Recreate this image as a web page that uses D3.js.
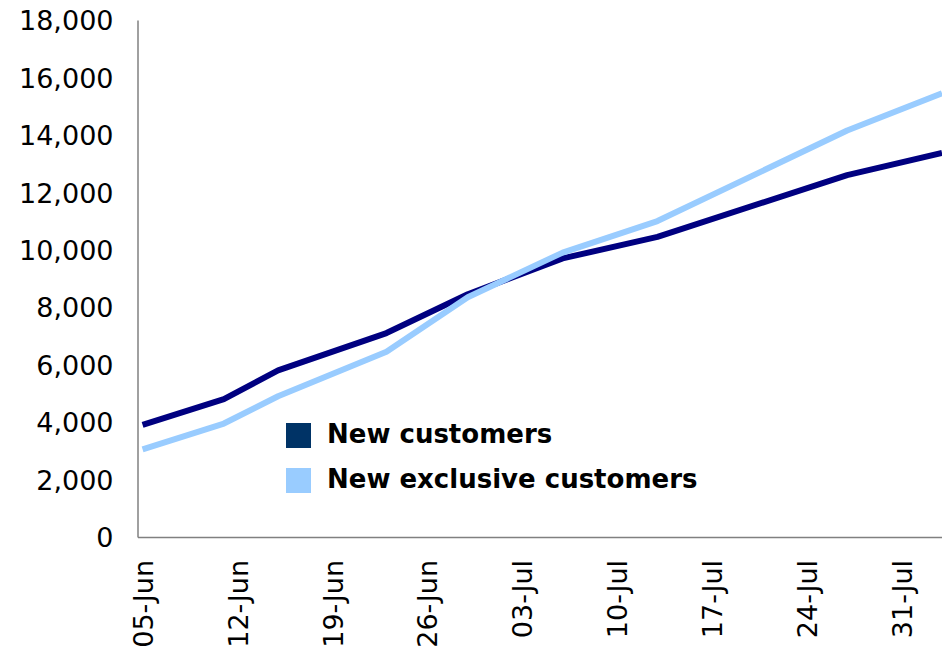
<!DOCTYPE html>
<html>
<head>
<meta charset="utf-8">
<script src="https://cdn.jsdelivr.net/npm/d3@7"></script>
<style>
  html, body { margin: 0; padding: 0; background: #fff; }
  svg { display: block; }
  text { font-family: "DejaVu Sans", sans-serif; fill: #000; }
</style>
</head>
<body>
<svg id="chart" width="942" height="653"></svg>
<script>
// Weekly-ish customer counts (cumulative)
const dates = ["2020-06-05", "2020-06-11", "2020-06-15", "2020-06-23", "2020-06-29",
               "2020-07-06", "2020-07-13", "2020-07-27", "2020-08-03"];
const newCustomers = [3900, 4800, 5800, 7100, 8450, 9700, 10450, 12600, 13370];
const newExclusive = [3050, 3950, 4900, 6450, 8350, 9900, 11000, 14150, 15450];
const seriesNames = ["New customers", "New exclusive customers"];
const tickDates = ["2020-06-05", "2020-06-12", "2020-06-19", "2020-06-26", "2020-07-03",
                   "2020-07-10", "2020-07-17", "2020-07-24", "2020-07-31"];
const yTicks = [0, 2000, 4000, 6000, 8000, 10000, 12000, 14000, 16000, 18000];

const parse = d3.timeParse("%Y-%m-%d");
const svg = d3.select("#chart");

const plotLeft = 137.5, plotRight = 942, plotTop = 20, plotBottom = 537;

const x = d3.scaleTime()
  .domain([new Date(2020, 5, 4, 15), new Date(2020, 7, 3)])
  .range([plotLeft, plotRight]);
const y = d3.scaleLinear().domain([0, 18000]).range([plotBottom, plotTop]);

// Y axis
const yAxis = d3.axisLeft(y)
  .tickValues(yTicks)
  .tickFormat(d3.format(","))
  .tickSize(0)
  .tickPadding(24);
const gy = svg.append("g").attr("transform", `translate(${plotLeft},0)`).call(yAxis);
gy.select(".domain").attr("stroke", "#808080").attr("stroke-width", 1.5);
gy.selectAll("text").style("font-size", "27px").attr("dy", "0.36em");

// X axis
const xAxis = d3.axisBottom(x)
  .tickValues(tickDates.map(parse))
  .tickFormat(d3.timeFormat("%d-%b"))
  .tickSize(0);
const gx = svg.append("g").attr("transform", `translate(0,${plotBottom})`).call(xAxis);
gx.select(".domain").attr("stroke", "#808080").attr("stroke-width", 1.5);
gx.selectAll("text")
  .style("font-size", "27px")
  .attr("text-anchor", "end")
  .attr("transform", "rotate(-90)")
  .attr("x", -23)
  .attr("y", 0)
  .attr("dy", "0.36em");

// Lines
const line = d3.line()
  .x((d, i) => x(parse(dates[i])))
  .y(d => y(d));

const plot = svg.append("g");
plot.append("path")
  .datum(newCustomers)
  .attr("fill", "none")
  .attr("stroke", "#000080")
  .attr("stroke-width", 6)
  .attr("stroke-linejoin", "round")
  .attr("d", line);
plot.append("path")
  .datum(newExclusive)
  .attr("fill", "none")
  .attr("stroke", "#99CCFF")
  .attr("stroke-width", 6)
  .attr("stroke-linejoin", "round")
  .attr("d", line);

// Legend
const legendColors = ["#003366", "#99CCFF"];
const legend = svg.append("g").attr("transform", "translate(286,423)");
seriesNames.forEach((name, i) => {
  const g = legend.append("g").attr("transform", `translate(0,${i * 45})`);
  g.append("rect").attr("width", 25).attr("height", 25).attr("fill", legendColors[i]);
  g.append("text")
    .attr("x", 41)
    .attr("y", 20)
    .style("font-size", "26px")
    .style("font-weight", "bold")
    .text(name);
});
</script>
</body>
</html>
